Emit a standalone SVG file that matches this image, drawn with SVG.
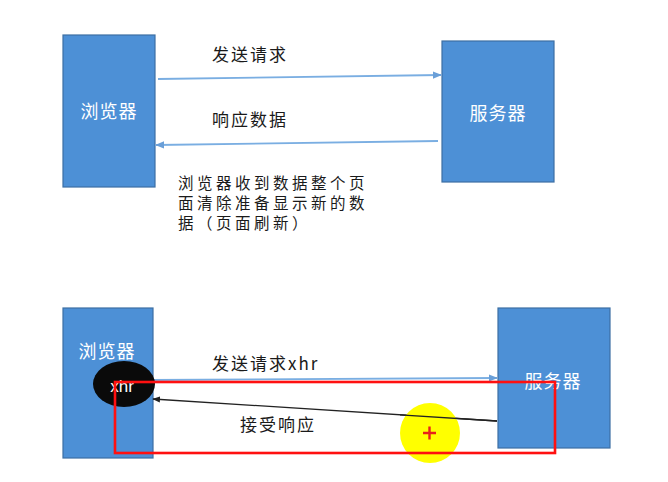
<svg xmlns="http://www.w3.org/2000/svg" width="668" height="482" viewBox="0 0 668 482">
  <style>
    .box { fill: #4d90d6; stroke: #3d6fa3; stroke-width: 1.2; }
    .boxlabel { font-family: "Noto Sans CJK SC", "Noto Sans", sans-serif; font-size: 18px; fill: #ffffff; letter-spacing: 1px; dominant-baseline: central; text-anchor: middle; }
    .label { font-family: "Noto Sans CJK SC", "Noto Sans", sans-serif; font-size: 17px; fill: #1a1a1a; letter-spacing: 2px; dominant-baseline: central; }
    .para { font-family: "Noto Sans CJK SC", "Noto Sans", sans-serif; font-size: 15.5px; fill: #1a1a1a; letter-spacing: 3.5px; dominant-baseline: central; }
    .flow { fill: none; stroke: #7aaee2; stroke-width: 1.8; }
    .back { fill: none; stroke: #222222; stroke-width: 1.3; }
  </style>
  <defs>
    <marker id="headBlue" viewBox="0 0 10 10" refX="9" refY="5" markerWidth="5" markerHeight="5" orient="auto">
      <path d="M0,1 L10,5 L0,9 Z" fill="#6a9fd8"/>
    </marker>
    <marker id="headBlack" viewBox="0 0 10 10" refX="9" refY="5" markerWidth="6" markerHeight="6" orient="auto">
      <path d="M0,1 L10,5 L0,9 Z" fill="#222222"/>
    </marker>
  </defs>

  <rect width="668" height="482" fill="#ffffff"/>

  <!-- upper scenario: full page reload -->
  <g id="browser-top">
    <rect class="box" x="63" y="35" width="92" height="152"/>
    <text class="boxlabel" x="109" y="110">浏览器</text>
  </g>
  <g id="server-top">
    <rect class="box" x="442" y="41" width="112" height="141"/>
    <text class="boxlabel" x="498" y="112">服务器</text>
  </g>

  <!-- lower scenario: xhr request -->
  <g id="browser-bottom">
    <rect class="box" x="63" y="308" width="90" height="150"/>
    <text class="boxlabel" x="107" y="350">浏览器</text>
  </g>
  <g id="server-bottom">
    <rect class="box" x="498" y="308" width="112" height="140"/>
    <text class="boxlabel" x="553" y="380">服务器</text>
  </g>

  <g id="connectors">
    <line class="flow" x1="158" y1="79" x2="441" y2="75" marker-end="url(#headBlue)"/>
    <line class="flow" x1="438" y1="141" x2="156" y2="145" marker-end="url(#headBlue)"/>
    <line class="flow" x1="150" y1="380" x2="497" y2="378" marker-end="url(#headBlue)"/>
    <line class="back" x1="497" y1="421" x2="153" y2="399" marker-end="url(#headBlack)"/>
  </g>

  <g id="xhr">
    <ellipse cx="124" cy="384" rx="31" ry="23" fill="#0a0a0a"/>
    <text x="122" y="386" font-family="Liberation Sans, Arial, sans-serif" font-size="17" fill="#ffffff" text-anchor="middle" dominant-baseline="central">xhr</text>
  </g>

  <g id="labels">
    <text class="label" x="212" y="53">发送请求</text>
    <text class="label" x="212" y="118">响应数据</text>
    <text class="para" x="178" y="182">浏览器收到数据整个页</text>
    <text class="para" x="178" y="202">面清除准备显示新的数</text>
    <text class="para" x="178" y="222">据（页面刷新）</text>
    <text class="label" x="212" y="362">发送请求xhr</text>
    <text class="label" x="240" y="423">接受响应</text>
  </g>

  <!-- pointer highlight -->
  <g id="pointer">
    <circle cx="430" cy="433" r="30" fill="#ffff00"/>
    <path d="M423,433 H436 M429.5,426.5 V439.5" stroke="#e8201a" stroke-width="2.4"/>
  </g>

  <!-- return line stays visible over the highlight -->
  <line class="back" x1="497" y1="421" x2="400" y2="414.8"/>

  <!-- red emphasis frame -->
  <rect x="115" y="382" width="440" height="71" fill="none" stroke="#ff1010" stroke-width="2.6"/>
</svg>
